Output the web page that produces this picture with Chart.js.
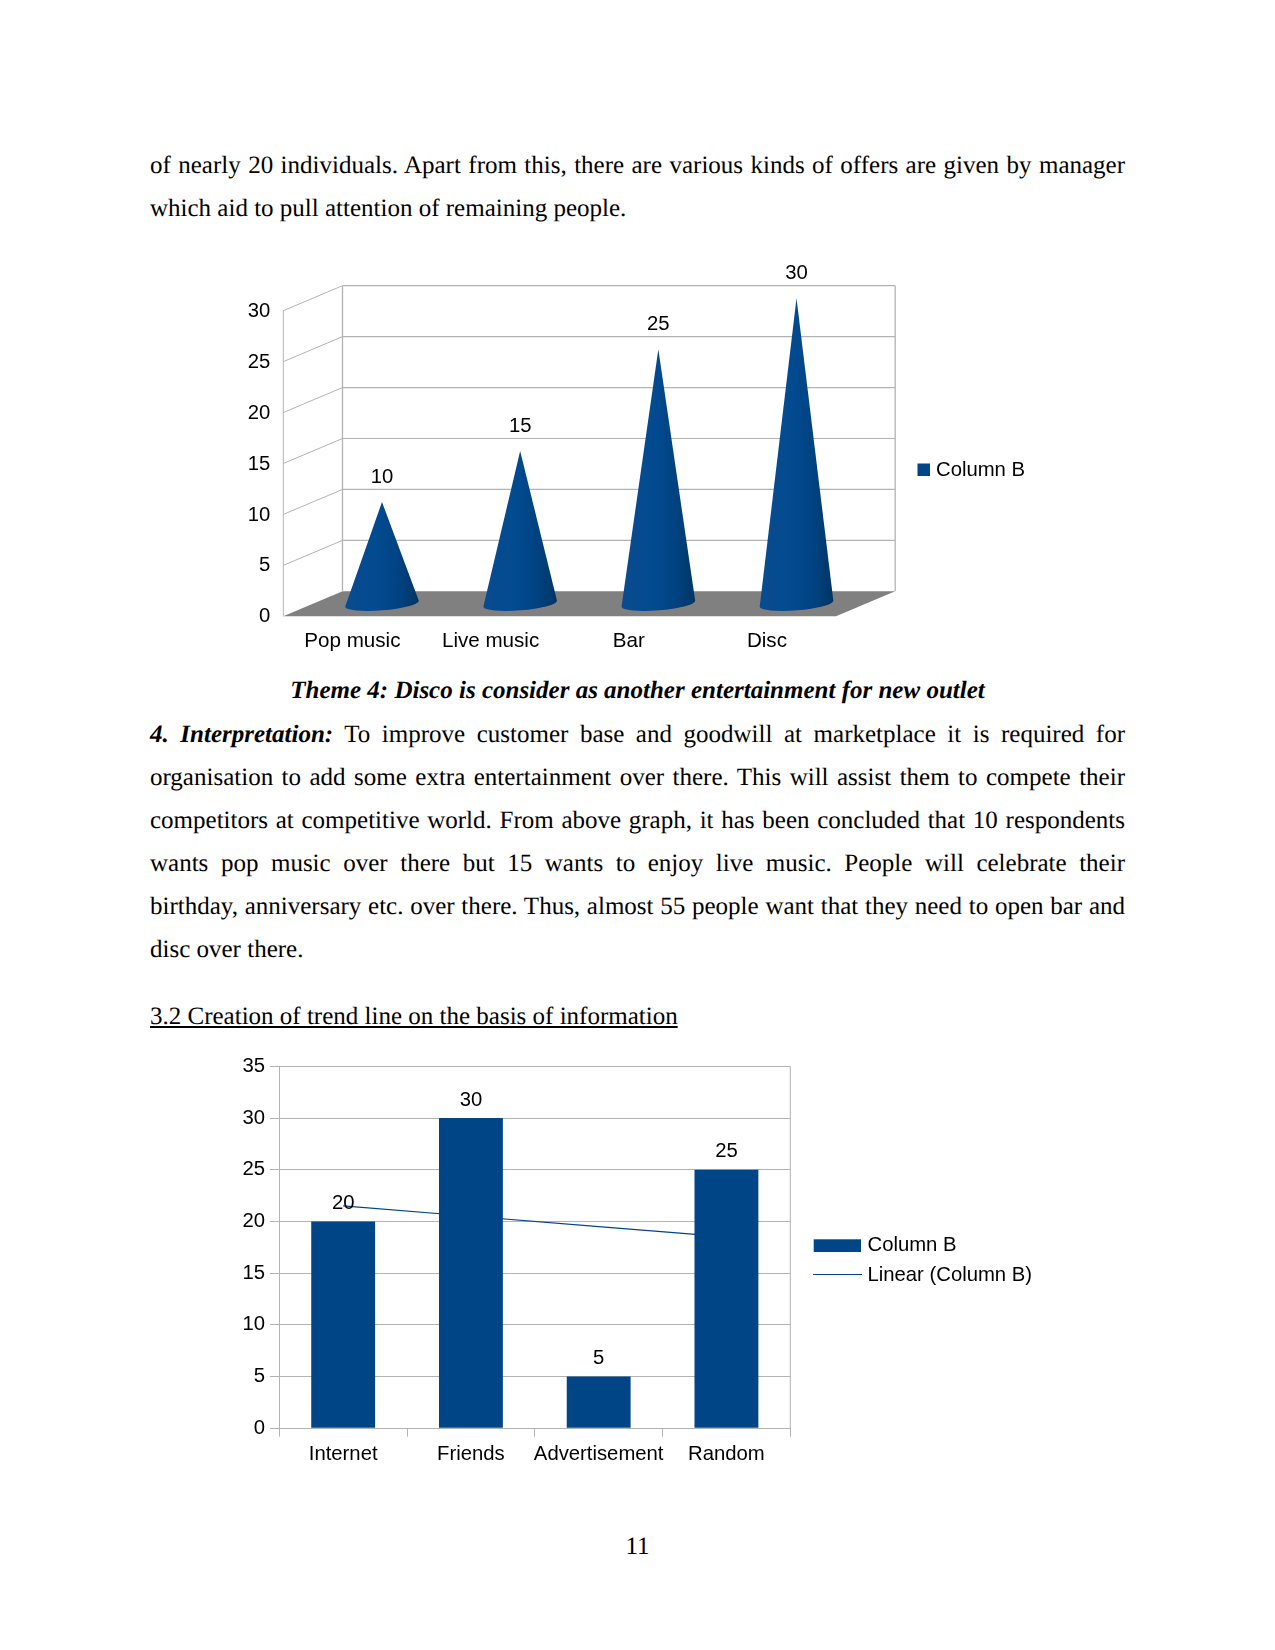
<!DOCTYPE html>
<html>
<head>
<meta charset="utf-8">
<title>Page 11</title>
<script src="https://cdn.jsdelivr.net/npm/chart.js@4"></script>
<style>
  html, body { margin: 0; padding: 0; background: #fff; }
  #page { position: relative; width: 1275px; height: 1650px; overflow: hidden; color: #000;
          font-family: "Liberation Serif", serif; font-size: 25px; text-rendering: geometricPrecision; }
  .ln { position: absolute; left: 150px; width: 975px; height: 43px; line-height: 43px; white-space: nowrap; }
  .just { white-space: normal; text-align: justify; text-align-last: justify; }
  .center { text-align: center; }
  canvas { position: absolute; display: block; }
  #cones { left: 200px; top: 250px; }
  #bars { left: 200px; top: 1040px; }
</style>
</head>
<body>
<div id="page">
  <div class="ln just" style="top:144px">of nearly 20 individuals. Apart from this, there are various kinds of offers are given by manager</div>
  <div class="ln" style="top:187px">which aid to pull attention of remaining people.</div>

  <canvas id="cones" width="900" height="410"></canvas>

  <div class="ln center" style="top:669px"><b><i>Theme 4: Disco is consider as another entertainment for new outlet</i></b></div>
  <div class="ln just" style="top:713px"><b><i>4. Interpretation:</i></b> To improve customer base and goodwill at marketplace it is required for</div>
  <div class="ln just" style="top:756px">organisation to add some extra entertainment over there. This will assist them to compete their</div>
  <div class="ln just" style="top:799px">competitors at competitive world. From above graph, it has been concluded that 10 respondents</div>
  <div class="ln just" style="top:842px">wants pop music over there but 15 wants to enjoy live music. People will celebrate their</div>
  <div class="ln just" style="top:885px">birthday, anniversary etc. over there. Thus, almost 55 people want that they need to open bar and</div>
  <div class="ln" style="top:928px">disc over there.</div>
  <div class="ln" style="top:995px"><u>3.2 Creation of trend line on the basis of information</u></div>

  <canvas id="bars" width="900" height="440"></canvas>

  <div class="ln center" style="top:1525px">11</div>
</div>

<script>
const coneCategories = ["Pop music", "Live music", "Bar", "Disc"];
const coneValues = [10, 15, 25, 30];

const barCategories = ["Internet", "Friends", "Advertisement", "Random"];
const barValues = [20, 30, 5, 25];
const trendValues = [21.5, 20.5, 19.5, 18.5];

const seriesName = "Column B";
const trendName = "Linear (Column B)";

const BLUE = "#004586";
const GRID = "#b3b3b3";
const FONT = '20.3px "Liberation Sans"';

// depth of the fake 3d box, in px
const DEPTH_X = 59.2;
const DEPTH_Y = -25;

Chart.defaults.font.family = '"Liberation Sans", Arial, sans-serif';
Chart.defaults.font.size = 20.3;
Chart.defaults.color = "#000";

function line(ctx, x1, y1, x2, y2, color, width) {
  ctx.beginPath();
  ctx.moveTo(x1, y1);
  ctx.lineTo(x2, y2);
  ctx.strokeStyle = color;
  ctx.lineWidth = width;
  ctx.stroke();
}

function legendText(ctx, text, x, y) {
  ctx.font = FONT;
  ctx.fillStyle = "#000";
  ctx.textAlign = "left";
  ctx.textBaseline = "middle";
  ctx.fillText(text, x, y);
}

// floor and walls behind the cones
const boxPlugin = {
  id: "box",
  beforeDatasetsDraw(chart) {
    const { ctx, chartArea: a, scales: { y } } = chart;
    ctx.save();
    ctx.beginPath();
    ctx.moveTo(a.left, a.bottom);
    ctx.lineTo(a.left + DEPTH_X, a.bottom + DEPTH_Y);
    ctx.lineTo(a.right + DEPTH_X, a.bottom + DEPTH_Y);
    ctx.lineTo(a.right, a.bottom);
    ctx.closePath();
    ctx.fillStyle = "#808080";
    ctx.fill();
    line(ctx, a.left, a.top, a.left, a.bottom, GRID, 1);
    line(ctx, a.left + DEPTH_X, a.top + DEPTH_Y, a.left + DEPTH_X, a.bottom + DEPTH_Y, GRID, 1.3);
    line(ctx, a.right + DEPTH_X, a.top + DEPTH_Y, a.right + DEPTH_X, a.bottom + DEPTH_Y, GRID, 1.3);
    y.ticks.forEach(t => {
      const py = y.getPixelForValue(t.value);
      if (t.value > 0) {
        line(ctx, a.left, py, a.left + DEPTH_X, py + DEPTH_Y, GRID, 1);
        line(ctx, a.left + DEPTH_X, py + DEPTH_Y, a.right + DEPTH_X, py + DEPTH_Y, GRID, 1.2);
      }
    });
    ctx.restore();
  }
};

// the bars of the first chart are painted as cones, half way into the box
const conePlugin = {
  id: "cone",
  afterDatasetsDraw(chart) {
    const { ctx } = chart;
    const rot = -0.08;
    ctx.save();
    chart.getDatasetMeta(0).data.forEach((bar, i) => {
      const cx = bar.x + DEPTH_X / 2;
      const tip = bar.y + DEPTH_Y / 2;
      const base = bar.base + DEPTH_Y / 2;
      const rx = bar.width / 2;
      const g = ctx.createLinearGradient(cx - rx, 0, cx + rx, 0);
      g.addColorStop(0, "#0a4c8e");
      g.addColorStop(0.45, "#024a90");
      g.addColorStop(0.75, "#004280");
      g.addColorStop(1, "#003564");
      ctx.beginPath();
      ctx.moveTo(cx, tip);
      ctx.lineTo(cx + rx * Math.cos(rot), base + rx * Math.sin(rot));
      ctx.ellipse(cx, base, rx, 6.5, rot, 0, Math.PI, false);
      ctx.closePath();
      ctx.fillStyle = g;
      ctx.fill();

      ctx.font = FONT;
      ctx.fillStyle = "#000";
      ctx.textAlign = "center";
      ctx.textBaseline = "middle";
      ctx.fillText(String(coneValues[i]), cx, tip - 24.5);
    });
    ctx.restore();
  }
};

new Chart(document.getElementById("cones"), {
  type: "bar",
  data: {
    labels: coneCategories,
    datasets: [{
      label: seriesName,
      data: coneValues,
      backgroundColor: "rgba(0,0,0,0)",
      barPercentage: 0.535,
      categoryPercentage: 1
    }]
  },
  options: {
    responsive: false,
    animation: false,
    layout: { padding: { left: 0, right: 264, top: 60.7, bottom: 0 } },
    plugins: { legend: { display: false }, tooltip: { enabled: false } },
    scales: {
      x: {
        afterFit: s => { s.height = 43.7; },
        grid: { display: false },
        border: { display: false },
        ticks: { padding: 5, maxRotation: 0, autoSkip: false, font: { size: 20.6 } }
      },
      y: {
        min: 0,
        max: 30,
        afterFit: s => { s.width = 83.3; },
        grid: { display: false },
        border: { display: false },
        ticks: { stepSize: 5, padding: 5, labelOffset: 0.5 }
      }
    }
  },
  plugins: [boxPlugin, conePlugin, {
    id: "coneLegend",
    afterDraw(chart) {
      const { ctx } = chart;
      ctx.save();
      ctx.fillStyle = BLUE;
      ctx.fillRect(717.5, 213.5, 12.5, 12.5);
      legendText(ctx, seriesName, 736, 220);
      ctx.restore();
    }
  }]
});

const barExtras = {
  id: "barExtras",
  beforeDatasetsDraw(chart) {
    const { ctx, chartArea: a } = chart;
    ctx.save();
    line(ctx, a.right, a.top, a.right, a.bottom, GRID, 1);
    ctx.restore();
  },
  afterDatasetsDraw(chart) {
    const { ctx } = chart;
    ctx.save();
    ctx.font = FONT;
    ctx.fillStyle = "#000";
    ctx.textAlign = "center";
    ctx.textBaseline = "middle";
    const meta = chart.getDatasetMeta(0);
    meta.data.forEach((bar, i) => {
      ctx.fillText(String(barValues[i]), bar.x, bar.y - 18);
    });
    ctx.restore();
  },
  afterDraw(chart) {
    const { ctx } = chart;
    ctx.save();
    ctx.fillStyle = BLUE;
    ctx.fillRect(613.7, 199.3, 47.3, 12.7);
    legendText(ctx, seriesName, 667.5, 205.5);
    line(ctx, 613, 234.5, 662, 234.5, BLUE, 1);
    legendText(ctx, trendName, 667.5, 235.5);
    ctx.restore();
  }
};

new Chart(document.getElementById("bars"), {
  data: {
    labels: barCategories,
    datasets: [
      {
        type: "bar",
        label: seriesName,
        data: barValues,
        backgroundColor: BLUE,
        barPercentage: 0.5,
        categoryPercentage: 1,
        order: 1
      },
      {
        type: "line",
        label: trendName,
        data: trendValues,
        borderColor: BLUE,
        borderWidth: 1.2,
        pointRadius: 0,
        tension: 0,
        fill: false,
        order: 2
      }
    ]
  },
  options: {
    responsive: false,
    animation: false,
    layout: { padding: { left: 0, right: 309.7, top: 26.3, bottom: 0 } },
    plugins: { legend: { display: false }, tooltip: { enabled: false } },
    scales: {
      x: {
        afterFit: s => { s.height = 51.7; },
        grid: { color: GRID, drawOnChartArea: false, tickLength: 8.4, lineWidth: 1 },
        border: { color: GRID },
        ticks: { padding: 5.5, maxRotation: 0, autoSkip: false }
      },
      y: {
        min: 0,
        max: 35,
        afterFit: s => { s.width = 79.3; },
        grid: { color: GRID, tickLength: 9.3, lineWidth: 1 },
        border: { color: GRID },
        ticks: { stepSize: 5, padding: 5 }
      }
    }
  },
  plugins: [barExtras]
});
</script>
</body>
</html>
